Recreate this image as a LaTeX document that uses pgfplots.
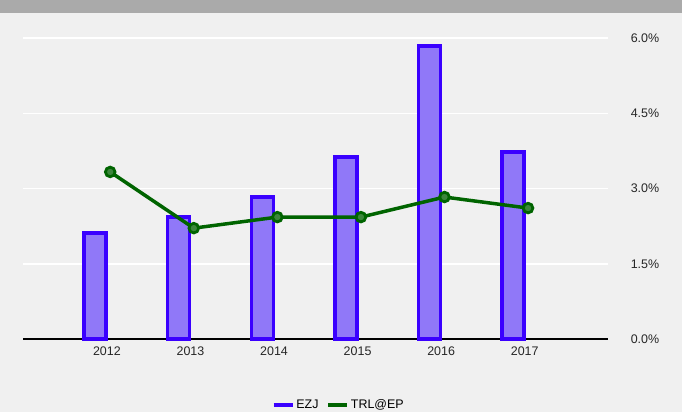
\documentclass[border=0pt]{standalone}
\usepackage{pgfplots}
\pgfplotsset{compat=1.18}
\usepackage{fontspec}
\setmainfont{Liberation Sans}
\definecolor{bgc}{HTML}{F0F0F0}
\definecolor{titlebar}{HTML}{AAAAAA}
\definecolor{barline}{HTML}{3A00FF}
\definecolor{barfill}{HTML}{9078F8}
\definecolor{lineg}{HTML}{006400}
\definecolor{markg}{HTML}{3C863C}

\begin{document}
\begin{tikzpicture}
% page background and title band
\fill[bgc] (-23.3bp,-73bp) rectangle (658.7bp,339bp);
\fill[titlebar] (-23.3bp,326bp) rectangle (658.7bp,339bp);
\useasboundingbox (-23.3bp,-73bp) rectangle (658.7bp,339bp);
\begin{axis}[
  at={(0,0)}, anchor=south west,
  scale only axis, width=585bp, height=301bp,
  xmin=-1, xmax=6, ymin=0, ymax=6,
  axis line style={draw=none},
  clip=false,
  ytick={0,1.5,3,4.5,6},
  yticklabels={0.0\%,1.5\%,3.0\%,4.5\%,6.0\%},
  ymajorgrids, grid style={white, line width=1.5bp},
  xtick={0,1,2,3,4,5},
  xticklabels={2012,2013,2014,2015,2016,2017},
  major tick length=0pt,
  tick label style={font=\fontsize{12.5}{14}\selectfont, text=black!85},
  xticklabel style={yshift=-4bp},
  yticklabel pos=right,
  yticklabel style={anchor=west, xshift=19bp},
  legend columns=2,
  legend style={draw=none, fill=none, at={(axis description cs:0.5,0)},
    anchor=center, xshift=23bp, yshift=-66bp,
    font=\fontsize{12.5}{14}\selectfont,
    /tikz/every even column/.append style={column sep=6bp}},
]
% zero line
\addplot[black, line width=2.5bp, forget plot] coordinates {(-1,0) (6,0)};
\addplot[ybar, bar width=22bp, bar shift=0pt, draw=barline, fill=barfill,
  line width=3.5bp,
  legend image code/.code={\draw[barline, line width=3.5bp] (0bp,0bp) -- (19bp,0bp);}]
  coordinates {(-0.14,2.11) (0.86,2.43) (1.86,2.83) (2.86,3.63) (3.86,5.84) (4.86,3.73)};
\addlegendentry{EZJ}
\addplot[lineg, line width=3.5bp, mark=*, mark size=4.8bp,
  mark options={draw=lineg, fill=markg, line width=2.8bp},
  legend image code/.code={\draw[lineg, line width=3.5bp] (0bp,0bp) -- (19bp,0bp);}]
  coordinates {(0.04,3.33) (1.04,2.21) (2.04,2.43) (3.04,2.43) (4.04,2.83) (5.04,2.61)};
\addlegendentry{TRL@EP}
\end{axis}
\end{tikzpicture}
\end{document}
